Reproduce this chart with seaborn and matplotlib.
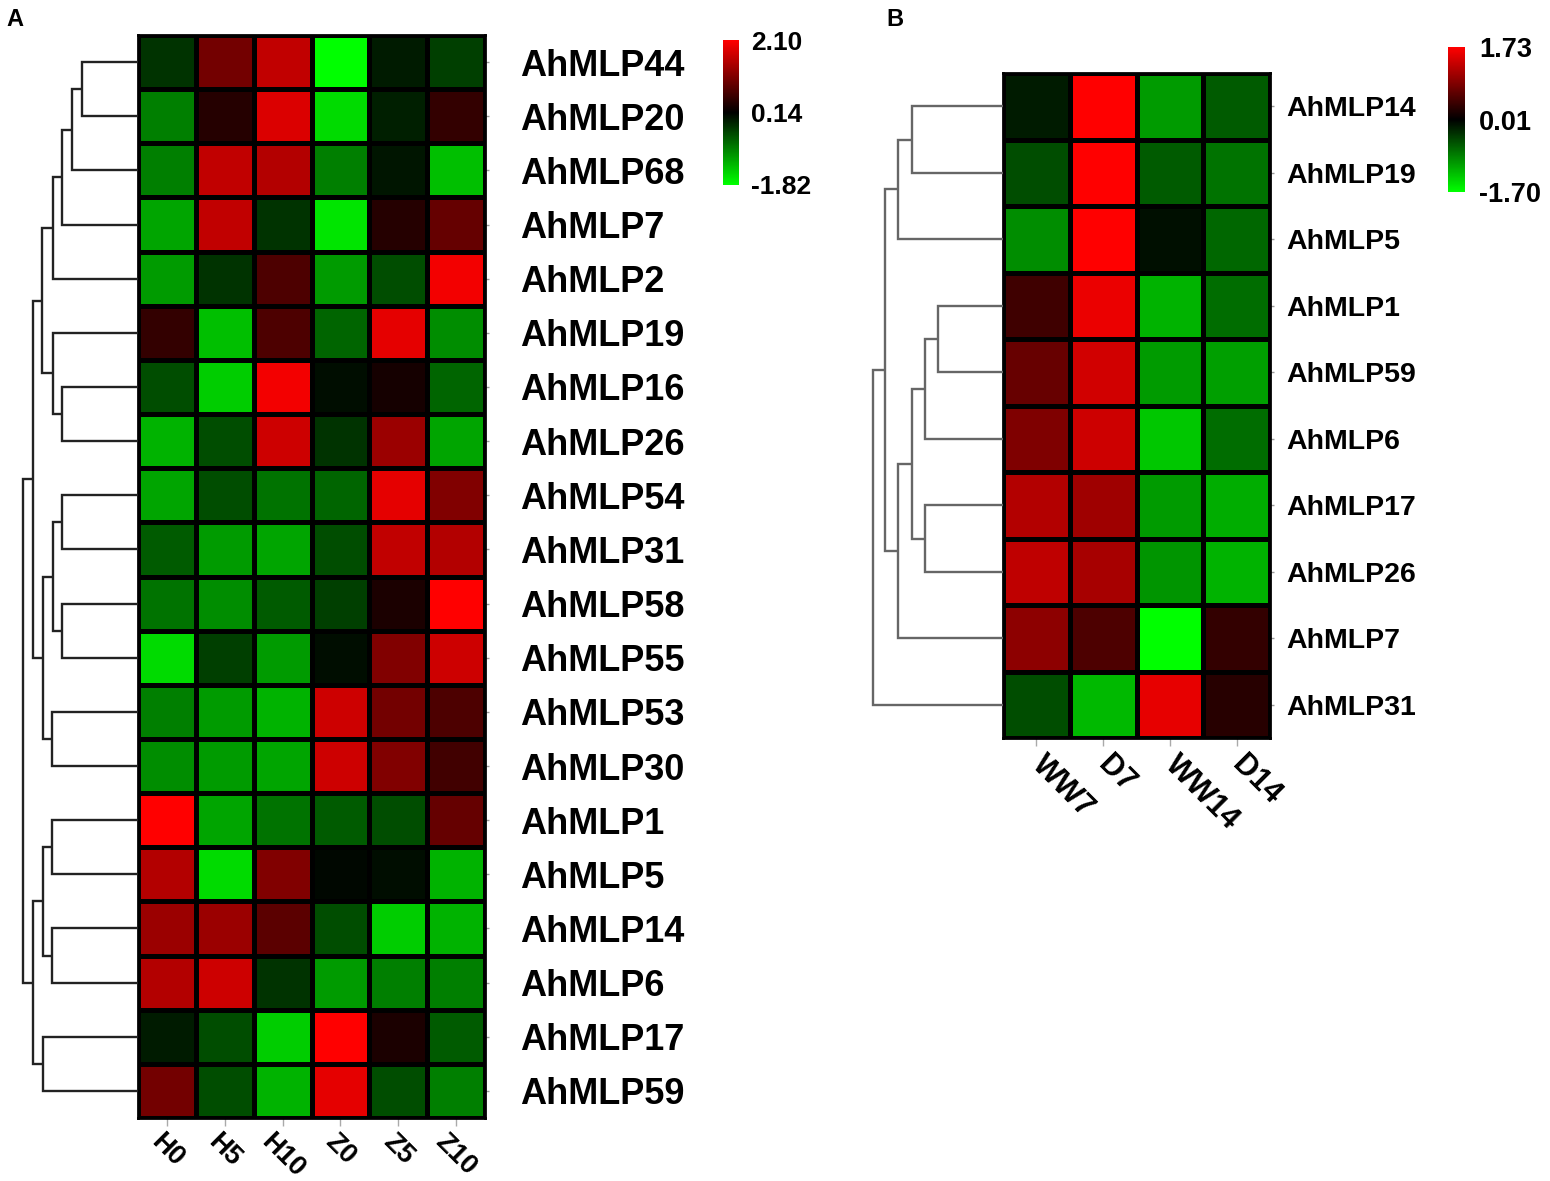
import numpy as np
import pandas as pd
import matplotlib
matplotlib.use('Agg')
import matplotlib.pyplot as plt
import seaborn as sns
from matplotlib.colors import LinearSegmentedColormap

# panel A data
genes_a = ['AhMLP44', 'AhMLP20', 'AhMLP68', 'AhMLP7', 'AhMLP2', 'AhMLP19', 'AhMLP16',
           'AhMLP26', 'AhMLP54', 'AhMLP31', 'AhMLP58', 'AhMLP55', 'AhMLP53', 'AhMLP30',
           'AhMLP1', 'AhMLP5', 'AhMLP14', 'AhMLP6', 'AhMLP17', 'AhMLP59']
samples_a = ['H0', 'H5', 'H10', 'Z0', 'Z5', 'Z10']
values_a = [
    [-0.25, 1.02, 1.61, -1.82, -0.06, -0.35],
    [-0.84, 0.43, 1.81, -1.53, -0.10, 0.53],
    [-0.84, 1.61, 1.51, -0.84, -0.02, -1.33],
    [-1.13, 1.61, -0.25, -1.62, 0.43, 0.92],
    [-1.04, -0.25, 0.73, -1.04, -0.45, 2.00],
    [0.53, -1.33, 0.73, -0.64, 1.90, -0.94],
    [-0.45, -1.43, 2.00, 0.04, 0.30, -0.64],
    [-1.23, -0.45, 1.71, -0.25, 1.32, -1.13],
    [-1.13, -0.45, -0.74, -0.64, 1.90, 1.12],
    [-0.55, -1.04, -1.13, -0.45, 1.61, 1.51],
    [-0.74, -0.94, -0.55, -0.35, 0.34, 2.10],
    [-1.53, -0.35, -1.04, 0.04, 1.12, 1.71],
    [-0.84, -1.04, -1.23, 1.71, 1.02, 0.73],
    [-0.94, -1.04, -1.13, 1.71, 1.12, 0.63],
    [2.10, -1.13, -0.74, -0.55, -0.45, 0.92],
    [1.51, -1.53, 1.12, 0.08, 0.04, -1.23],
    [1.32, 1.32, 0.83, -0.45, -1.43, -1.23],
    [1.51, 1.71, -0.25, -1.04, -0.84, -0.84],
    [-0.06, -0.45, -1.43, 2.10, 0.34, -0.55],
    [1.02, -0.45, -1.23, 1.90, -0.45, -0.84],
]
cbar_ticks_a = [-1.82, 0.14, 2.10]
# (left node, right node, height); nodes >= n are earlier merges
merges_a = [(0, 1, 56), (20, 2, 66), (21, 3, 76), (22, 4, 85), (6, 7, 76), (5, 24, 85),
            (23, 25, 96), (8, 9, 76), (10, 11, 76), (27, 28, 85), (12, 13, 86),
            (29, 30, 95), (26, 31, 105), (14, 15, 86), (16, 17, 86), (33, 34, 95),
            (18, 19, 95), (35, 36, 105), (32, 37, 115)]

# panel B data
genes_b = ['AhMLP14', 'AhMLP19', 'AhMLP5', 'AhMLP1', 'AhMLP59', 'AhMLP6', 'AhMLP17',
           'AhMLP26', 'AhMLP7', 'AhMLP31']
samples_b = ['WW7', 'D7', 'WW14', 'D14']
values_b = [
    [-0.16, 1.73, -1.02, -0.59],
    [-0.50, 1.73, -0.59, -0.76],
    [-0.93, 1.73, -0.08, -0.67],
    [0.44, 1.59, -1.19, -0.71],
    [0.70, 1.42, -1.02, -1.05],
    [0.87, 1.39, -1.32, -0.71],
    [1.21, 1.08, -1.02, -1.15],
    [1.30, 1.13, -0.98, -1.19],
    [0.96, 0.53, -1.70, 0.35],
    [-0.50, -1.22, 1.56, 0.27],
]
cbar_ticks_b = [-1.70, 0.01, 1.73]
merges_b = [(0, 1, 91), (10, 2, 105), (3, 4, 65), (12, 5, 78), (6, 7, 78),
            (13, 14, 91), (15, 8, 105), (11, 16, 118), (17, 9, 130)]

sns.set_theme(style='white')
plt.rcParams['font.family'] = ['Liberation Sans', 'DejaVu Sans']
plt.rcParams['text.color'] = 'black'
plt.rcParams['xtick.color'] = 'black'
plt.rcParams['ytick.color'] = 'black'

cmap = LinearSegmentedColormap.from_list('gkr', ['#00ff00', '#000000', '#ff0000'])

W, H = 1550, 1181
fig = plt.figure(figsize=(W / 100, H / 100), dpi=100)


def box(x0, y0, x1, y1):
    return [x0 / W, 1 - y1 / H, (x1 - x0) / W, (y1 - y0) / H]


def draw_dendro(ax, merges, n, color):
    pos = {i: (i + 0.5, 0.0) for i in range(n)}
    for k, (a, b, h) in enumerate(merges):
        ya, ha = pos[a]
        yb, hb = pos[b]
        ax.plot([ha, h, h, hb], [ya, ya, yb, yb], color=color, lw=1.7,
                solid_capstyle='butt', solid_joinstyle='miter')
        pos[n + k] = ((ya + yb) / 2, h)
    ax.set_ylim(n, 0)
    ax.set_xlim(merges[-1][2] * 1.1, 0)
    ax.axis('off')


def panel(hm_box, den_box, cb_box, genes, samples, values, ticks, merges,
          ylab_size, ylab_pad, xlab_size, xlab_pad, cb_size, cb_pad, den_color, xmode):
    df = pd.DataFrame(values, index=genes, columns=samples)
    ax = fig.add_axes(box(*hm_box))
    cax = fig.add_axes(box(*cb_box))
    sns.heatmap(df, ax=ax, cmap=cmap, vmin=ticks[0], vmax=ticks[-1], cbar_ax=cax,
                linewidths=2.5, linecolor='black', cbar_kws={'ticks': ticks})
    for s in ax.spines.values():
        s.set_visible(True)
        s.set_color('black')
        s.set_linewidth(2)
    ax.yaxis.tick_right()
    ax.set_xlabel('')
    ax.set_ylabel('')
    ax.set_yticklabels(genes, rotation=0, fontsize=ylab_size, fontweight='bold')
    ax.tick_params(axis='y', length=3, width=1, color='#999999', pad=ylab_pad,
                   right=True, left=False, labelcolor='black')
    ax.tick_params(axis='x', length=6, width=1, color='#aaaaaa', pad=xlab_pad,
                   bottom=True, labelcolor='black')
    if xmode == 'center':
        ax.set_xticklabels(samples, rotation=-45, ha='center', va='top',
                           fontsize=xlab_size, fontweight='bold')
    else:
        ax.set_xticklabels(samples, rotation=-45, ha='left', va='center',
                           rotation_mode='anchor', fontsize=xlab_size, fontweight='bold')
    cbar = ax.collections[0].colorbar
    cbar.outline.set_visible(False)
    cbar.set_ticklabels(['%.2f' % t for t in ticks])
    cax.tick_params(length=0, labelsize=cb_size, pad=cb_pad, labelcolor='black')
    for t in cax.get_yticklabels():
        t.set_fontweight('bold')

    dax = fig.add_axes(box(*den_box))
    draw_dendro(dax, merges, len(genes), den_color)


panel((138, 35, 485, 1118), (11, 35, 138, 1118), (723, 40, 739, 185),
      genes_a, samples_a, values_a, cbar_ticks_a, merges_a,
      26, 22, 19.5, 2, 19, 9, '#222222', 'center')
panel((1003, 73, 1270, 738), (860, 73, 1003, 738), (1448, 47, 1465, 192),
      genes_b, samples_b, values_b, cbar_ticks_b, merges_b,
      20.5, 8.5, 22, 10, 19.5, 10, '#666666', 'anchor')

fig.text(0.004, 0.993, 'A', fontsize=17, fontweight='bold', va='top', ha='left')
fig.text(0.572, 0.993, 'B', fontsize=17, fontweight='bold', va='top', ha='left')

fig.savefig('out.png', dpi=100)
